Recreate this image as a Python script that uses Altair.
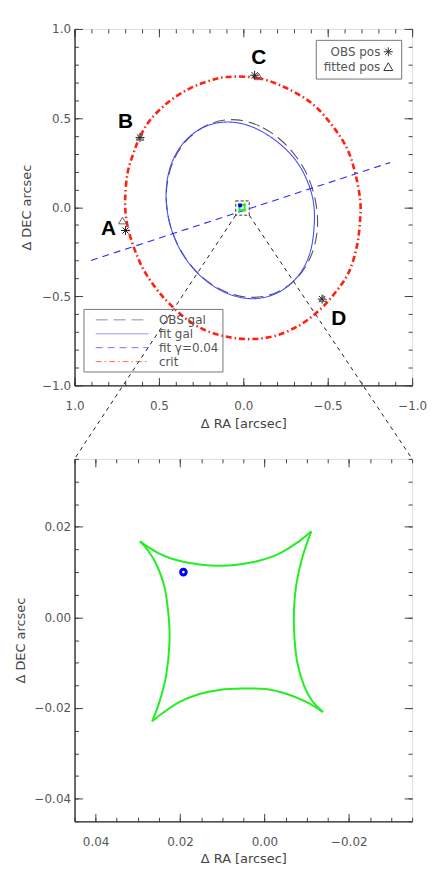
import altair as alt
import pandas as pd

# ---------------- data ----------------
# top panel curves (arcsec)
crit_x = [0.102, -0.084, -0.251, -0.408, -0.525, -0.614, -0.663, -0.692, -0.692, -0.673, -0.624, -0.545,
          -0.447, -0.329, -0.192, -0.055, 0.082, 0.220, 0.337, 0.435, 0.514, 0.592, 0.651, 0.690, 0.700,
          0.686, 0.651, 0.612, 0.553, 0.455, 0.337, 0.220]
crit_y = [0.730, 0.725, 0.670, 0.581, 0.460, 0.330, 0.191, 0.042, -0.070, -0.219, -0.367, -0.479,
          -0.581, -0.665, -0.721, -0.740, -0.730, -0.693, -0.628, -0.544, -0.460, -0.349, -0.219, -0.088,
          0.042, 0.191, 0.302, 0.395, 0.488, 0.581, 0.656, 0.703]
obs_gal_x = [0.039, -0.116, -0.256, -0.364, -0.426, -0.438, -0.395, -0.304, -0.175, -0.024, 0.131,
             0.271, 0.379, 0.443, 0.454, 0.411, 0.319, 0.190]
obs_gal_y = [0.490, 0.446, 0.347, 0.208, 0.042, -0.130, -0.287, -0.411, -0.487, -0.505, -0.464,
             -0.368, -0.228, -0.063, 0.109, 0.267, 0.391, 0.470]
fit_gal_x = [0.072, -0.080, -0.235, -0.345, -0.412, -0.418, -0.384, -0.300, -0.178, -0.033, 0.119,
             0.259, 0.371, 0.439, 0.457, 0.423, 0.339, 0.217]
fit_gal_y = [0.477, 0.439, 0.340, 0.213, 0.046, -0.128, -0.287, -0.413, -0.491, -0.513, -0.474,
             -0.381, -0.245, -0.079, 0.093, 0.251, 0.377, 0.456]
gamma_x = [0.902, -0.869]
gamma_y = [-0.299, 0.250]

series_names = ["OBS gal", "fit gal", "fit γ=0.04", "crit"]
series_colors = ["#555555", "#4a4aff", "#2a2aff", "#ff2010"]
series_dash = [[12, 6], [1, 0], [7, 5], [6, 3, 1.5, 3]]

# image positions
img_names = ["A", "B", "C", "D"]
obs_x = [0.698, 0.612, -0.067, -0.467]
obs_y = [-0.131, 0.391, 0.740, -0.516]
fit_x = [0.716, 0.612, -0.090, -0.471]
fit_y = [-0.075, 0.395, 0.734, -0.511]
lbl_x = [0.798, 0.698, -0.091, -0.565]
lbl_y = [-0.123, 0.479, 0.837, -0.626]
pos_kinds = ["OBS pos", "fitted pos"]

# source position and caustic (arcsec)
src_x = [0.0192]
src_y = [0.0100]
caus_top_x = [0.0295, 0.0249, 0.0202, 0.0154, 0.0107, 0.0060, 0.0013, -0.0035, -0.0082, -0.0111]
caus_top_y = [0.0168, 0.0141, 0.0125, 0.0117, 0.0114, 0.0117, 0.0125, 0.0141, 0.0168, 0.0190]
caus_right_x = [-0.0111, -0.0090, -0.0076, -0.0070, -0.0071, -0.0078, -0.0094, -0.0113, -0.0139]
caus_right_y = [0.0190, 0.0133, 0.0075, 0.0017, -0.0042, -0.0100, -0.0151, -0.0184, -0.0209]
caus_bot_x = [-0.0139, -0.0098, -0.0050, -0.0003, 0.0052, 0.0107, 0.0154, 0.0202, 0.0241, 0.0266]
caus_bot_y = [-0.0209, -0.0186, -0.0168, -0.0158, -0.0157, -0.0160, -0.0169, -0.0187, -0.0211, -0.0229]
caus_left_x = [0.0266, 0.0249, 0.0233, 0.0225, 0.0227, 0.0237, 0.0257, 0.0276, 0.0295]
caus_left_y = [-0.0229, -0.0187, -0.0129, -0.0056, 0.0002, 0.0068, 0.0119, 0.0148, 0.0168]

# axis ranges / ticks
top_x_dom = [-1.0, 1.0]
top_y_dom = [-1.0, 1.0]
top_major = [-1.0, -0.5, 0.0, 0.5, 1.0]
top_minor = [round(-1.0 + 0.1 * i, 2) for i in range(21)]
bot_x_dom = [-0.035, 0.045]
bot_y_dom = [-0.045, 0.035]
bot_x_major = [-0.02, 0.0, 0.02, 0.04]
bot_y_major = [-0.04, -0.02, 0.0, 0.02]
bot_x_minor = [round(-0.035 + 0.005 * i, 3) for i in range(17)]
bot_y_minor = [round(-0.045 + 0.005 * i, 3) for i in range(17)]

# ---------------- layout / style ----------------
W = 340
H1 = 359
H2 = 365
GAP = 74
FONT = "DejaVu Sans"
LBL = "#555555"
TCK = "#444444"

STAR = "M-1,0H1M0,-1V1M-0.7,-0.7L0.7,0.7M-0.7,0.7L0.7,-0.7"
# legend glyphs drawn to the right of their (right-aligned) labels
STAR_KEY = "M12.56,0H14.56M13.56,-1V1M12.86,-0.7L14.26,0.7M12.86,0.7L14.26,-0.7"
TRI_KEY = "M13.56,-0.866L12.56,0.866L14.56,0.866Z"

# ---------------- tables ----------------
def curve(name, xs, ys):
    return pd.DataFrame({"series": name, "i": range(len(xs)), "x": xs, "y": ys})

gal_df = pd.concat([curve("OBS gal", obs_gal_x, obs_gal_y),
                    curve("fit gal", fit_gal_x, fit_gal_y)])
crit_df = curve("crit", crit_x, crit_y)
gam_df = curve("fit γ=0.04", gamma_x, gamma_y)

caus_df = pd.concat([
    pd.DataFrame({"edge": "t", "i": range(len(caus_top_x)), "x": caus_top_x, "y": caus_top_y}),
    pd.DataFrame({"edge": "r", "i": range(len(caus_right_x)), "x": caus_right_x, "y": caus_right_y}),
    pd.DataFrame({"edge": "b", "i": range(len(caus_bot_x)), "x": caus_bot_x, "y": caus_bot_y}),
    pd.DataFrame({"edge": "l", "i": range(len(caus_left_x)), "x": caus_left_x, "y": caus_left_y}),
])
src_df = pd.DataFrame({"x": src_x, "y": src_y})
obs_df = pd.DataFrame({"kind": pos_kinds[0], "x": obs_x, "y": obs_y})
fitp_df = pd.DataFrame({"kind": pos_kinds[1], "x": fit_x, "y": fit_y})
pos_df = pd.concat([obs_df, fitp_df])
lbl_df = pd.DataFrame({"t": img_names, "x": lbl_x, "y": lbl_y})

# zoom box = bottom panel range, connectors to the bottom panel's top corners
y_bottom_panel = top_y_dom[1] - (H1 + GAP) * (top_y_dom[1] - top_y_dom[0]) / H1
box_df = pd.DataFrame({"x": [bot_x_dom[1]], "x2": [bot_x_dom[0]], "y": [bot_y_dom[0]], "y2": [bot_y_dom[1]]})
conn_df = pd.DataFrame({"x": [bot_x_dom[1], bot_x_dom[0]], "y": [bot_y_dom[0], bot_y_dom[0]],
                        "x2": [top_x_dom[1], top_x_dom[0]], "y2": [y_bottom_panel, y_bottom_panel]})

# ---------------- scales ----------------
txs = alt.Scale(domain=top_x_dom, reverse=True, nice=False, zero=False)
tys = alt.Scale(domain=top_y_dom, nice=False, zero=False)
bxs = alt.Scale(domain=bot_x_dom, reverse=True, nice=False, zero=False)
bys = alt.Scale(domain=bot_y_dom, nice=False, zero=False)

col_scale = alt.Scale(domain=series_names, range=series_colors)
dash_scale = alt.Scale(domain=series_names, range=series_dash)

line_legend = alt.Legend(
    title=None, orient="none", legendX=9, legendY=282, padding=4, strokeColor="#777777",
    symbolType="M-4.1,0H4.1", symbolSize=169, symbolStrokeWidth=1, symbolOpacity=0.65,
    symbolOffset=28, labelOffset=30, rowPadding=1,
    labelFont=FONT, labelFontSize=12, labelColor=LBL,
)
pt_legend = alt.Legend(
    title=None, orient="none", legendX=243, legendY=11, padding=6, strokeColor="#777777",
    symbolSize=81, symbolStrokeWidth=1, symbolStrokeColor="#333333", symbolOpacity=1,
    symbolFillColor="transparent",
    labelAlign="right", labelOffset=47, symbolOffset=0, rowPadding=2,
    labelFont=FONT, labelFontSize=12, labelColor=LBL,
)


def axis(orient, values, size, labels=False, fmt=".1f", title=None, label_pad=4, title_pad=6):
    kw = dict(orient=orient, values=values, tickSize=size, offset=-size, domain=False,
              labels=labels, tickColor=TCK, tickWidth=1, grid=False, title=title)
    if labels:
        kw.update(format=fmt, labelFlush=False, labelPadding=label_pad, labelFont=FONT,
                  labelFontSize=12, labelColor=LBL, labelOverlap=False)
    if title is not None:
        kw.update(titleFont=FONT, titleFontSize=13, titleColor="#444444", titleFontWeight="normal",
                  titlePadding=title_pad)
    return alt.Axis(**kw)


def frame_axis(orient):
    return alt.Axis(orient=orient, domain=True, domainColor="#222222", domainWidth=1.3,
                    ticks=False, labels=False, grid=False, title=None)


def axis_layers(xs, ys, xmaj, xmin, ymaj, ymin, fmt, ytitle_pad):
    d = pd.DataFrame({"x": [0.0], "y": [0.0]})
    specs = [
        (axis("bottom", xmaj, 8, True, fmt, "Δ RA [arcsec]", 15, 6),
         axis("left", ymaj, 8, True, fmt, "Δ DEC arcsec", 4, ytitle_pad)),
        (axis("bottom", xmin, 4), axis("left", ymin, 4)),
        (axis("top", xmaj, 8), axis("right", ymaj, 8)),
        (axis("top", xmin, 4), axis("right", ymin, 4)),
        (frame_axis("bottom"), frame_axis("left")),
    ]
    return [alt.Chart(d).mark_point(opacity=0).encode(
        x=alt.X("x:Q", scale=xs, axis=ax_x), y=alt.Y("y:Q", scale=ys, axis=ax_y)) for ax_x, ax_y in specs]


# ---------------- top panel ----------------
def X(s):
    return alt.X("x:Q", scale=s, axis=None)


def Y(s):
    return alt.Y("y:Q", scale=s, axis=None)


def series_enc():
    return dict(
        color=alt.Color("series:N", scale=col_scale, legend=line_legend),
        strokeDash=alt.StrokeDash("series:N", scale=dash_scale, legend=line_legend),
    )


gals = alt.Chart(gal_df).mark_line(interpolate="cardinal-closed", strokeWidth=1.1).encode(
    x=X(txs), y=Y(tys), order="i:Q", **series_enc())
crit = alt.Chart(crit_df).mark_line(interpolate="cardinal-closed", strokeWidth=2.6).encode(
    x=X(txs), y=Y(tys), order="i:Q", **series_enc())
gamma = alt.Chart(gam_df).mark_line(strokeWidth=1.1).encode(
    x=X(txs), y=Y(tys), order="i:Q", **series_enc())
box = alt.Chart(box_df).mark_rect(fill=None, filled=False, stroke="#333333", strokeWidth=1,
                                   strokeDash=[3, 2]).encode(
    x=X(txs), x2="x2:Q", y=Y(tys), y2="y2:Q")
conn = alt.Chart(conn_df).mark_rule(color="#222222", strokeWidth=1, strokeDash=[4, 4], clip=False).encode(
    x=X(txs), x2="x2:Q", y=Y(tys), y2="y2:Q")
caus_small = alt.Chart(caus_df).mark_line(color="#22ee22", strokeWidth=2).encode(
    x=X(txs), y=Y(tys), detail="edge:N", order="i:Q")
src_small = alt.Chart(src_df).mark_point(shape="square", filled=True, color="#0000ff", size=14, opacity=1).encode(
    x=X(txs), y=Y(tys))
stars = alt.Chart(obs_df).mark_point(shape=STAR, filled=False, size=81, strokeWidth=1, color="#222222",
                                     opacity=1).encode(x=X(txs), y=Y(tys))
tris = alt.Chart(fitp_df).mark_point(shape="triangle-up", filled=False, size=60, strokeWidth=1,
                                     color="#666666", opacity=1).encode(x=X(txs), y=Y(tys))
pos_key = alt.Chart(pos_df).mark_point(filled=False, opacity=0).encode(
    x=X(txs), y=Y(tys),
    shape=alt.Shape("kind:N", scale=alt.Scale(domain=pos_kinds, range=[STAR_KEY, TRI_KEY]), legend=pt_legend))
letters = alt.Chart(lbl_df).mark_text(font="Liberation Sans", fontSize=21, fontWeight="bold",
                                       color="#000000", align="center", baseline="middle").encode(
    x=X(txs), y=Y(tys), text="t:N")

top = alt.layer(
    *axis_layers(txs, tys, top_major, top_minor, top_major, top_minor, ".1f", 8),
    gals, crit, gamma, box, conn, caus_small, src_small, stars, tris, pos_key, letters,
).resolve_axis(x="independent", y="independent").properties(width=W, height=H1)

# ---------------- bottom panel ----------------
caus = alt.Chart(caus_df).mark_line(color="#22ee22", strokeWidth=2, interpolate="cardinal").encode(
    x=X(bxs), y=Y(bys), detail="edge:N", order="i:Q")
src = alt.Chart(src_df).mark_point(shape="circle", filled=False, color="#0000ff", size=32,
                                   strokeWidth=3, opacity=1).encode(x=X(bxs), y=Y(bys))

bottom = alt.layer(
    *axis_layers(bxs, bys, bot_x_major, bot_x_minor, bot_y_major, bot_y_minor, ".2f", 7),
    caus, src,
).resolve_axis(x="independent", y="independent").properties(width=W, height=H2)

chart = alt.vconcat(top, bottom, spacing=GAP, bounds="flush").properties(
    padding={"top": 11, "left": 5, "right": 0, "bottom": 2}
).configure_view(stroke="#777777", strokeWidth=1).configure(background="white")

chart.save("out.html", embed_options={"renderer": "svg", "actions": False})
